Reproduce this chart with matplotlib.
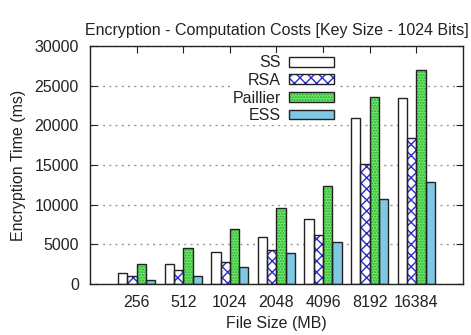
import numpy as np
import matplotlib.pyplot as plt
from matplotlib.patches import Patch

plt.rcParams['font.family'] = ['Liberation Sans', 'DejaVu Sans']
plt.rcParams['hatch.linewidth'] = 1.0

#data (ms)
file_sizes = ["256", "512", "1024", "2048", "4096", "8192", "16384"]
ss = [1420, 2560, 4000, 5890, 8190, 20920, 23400]
rsa = [970, 1760, 2810, 4290, 6180, 15080, 18400]
paillier = [2480, 4580, 6930, 9620, 12310, 23530, 26970]
ess = [540, 1050, 2100, 3950, 5250, 10670, 12860]

series = [
    ("SS", ss, "white", None, "white"),
    ("RSA", rsa, "white", "xxx", "#2a2ad0"),
    ("Paillier", paillier, "#66ee66", "......", "#3aa03a"),
    ("ESS", ess, "#7ec8e3", None, "#7ec8e3"),
]

fs = 11.5
fig = plt.figure(figsize=(4.71, 3.35), dpi=100)
ax = fig.add_axes([0.191, 0.152, 0.792, 0.711])

x = np.arange(len(file_sizes))
w = 0.2
for i, (name, vals, fc, hatch, hc) in enumerate(series):
    pos = x + (i - 1.5) * w
    #fill + hatch first, then the black outline on top
    ax.bar(pos, vals, w, color=fc, hatch=hatch, edgecolor=hc, linewidth=0, zorder=2)
    ax.bar(pos, vals, w, fill=False, edgecolor="#222222", linewidth=1.0, zorder=3)

ax.set_xlim(-1, 7)
ax.set_ylim(0, 30000)
ax.set_xticks(x)
ax.set_xticklabels(file_sizes)
ax.set_yticks(np.arange(0, 30001, 5000))
ax.tick_params(direction="in", top=True, right=True, length=5, labelsize=fs, colors="#222222")
ax.tick_params(axis="x", pad=8)
ax.tick_params(axis="y", pad=8)
ax.grid(axis="y", color="#999999", linestyle=(0, (1.5, 3)), linewidth=1, zorder=0)
for s in ax.spines.values():
    s.set_linewidth(1.0)
    s.set_color("#222222")

ax.set_title("Encryption - Computation Costs [Key Size - 1024 Bits]", fontsize=fs, color="#222222", pad=8)
ax.set_xlabel("File Size (MB)", fontsize=fs, color="#222222", labelpad=4)
ax.set_ylabel("Encryption Time (ms)", fontsize=fs, color="#222222", labelpad=6)

# outlined copies for the legend swatches
leg_handles = []
for name, vals, fc, hatch, hc in series:
    leg_handles.append((Patch(facecolor=fc, hatch=hatch, edgecolor=hc, linewidth=0),
                        Patch(fill=False, edgecolor="#222222", linewidth=1.0)))
leg = ax.legend(leg_handles, [s[0] for s in series], loc="upper right",
                bbox_to_anchor=(336 / 471, 1 - 53 / 335), bbox_transform=fig.transFigure,
                markerfirst=False, frameon=True,
                handlelength=2.8, handleheight=0.55, labelspacing=0.16,
                handletextpad=0.5, borderpad=0.15, borderaxespad=0, fontsize=fs)
leg.get_frame().set_edgecolor("none")
leg.get_frame().set_facecolor("white")
leg.get_frame().set_alpha(1)
for t in leg.get_texts():
    t.set_ha("right")
    t.set_color("#222222")

fig.savefig("out.png", dpi=100)
